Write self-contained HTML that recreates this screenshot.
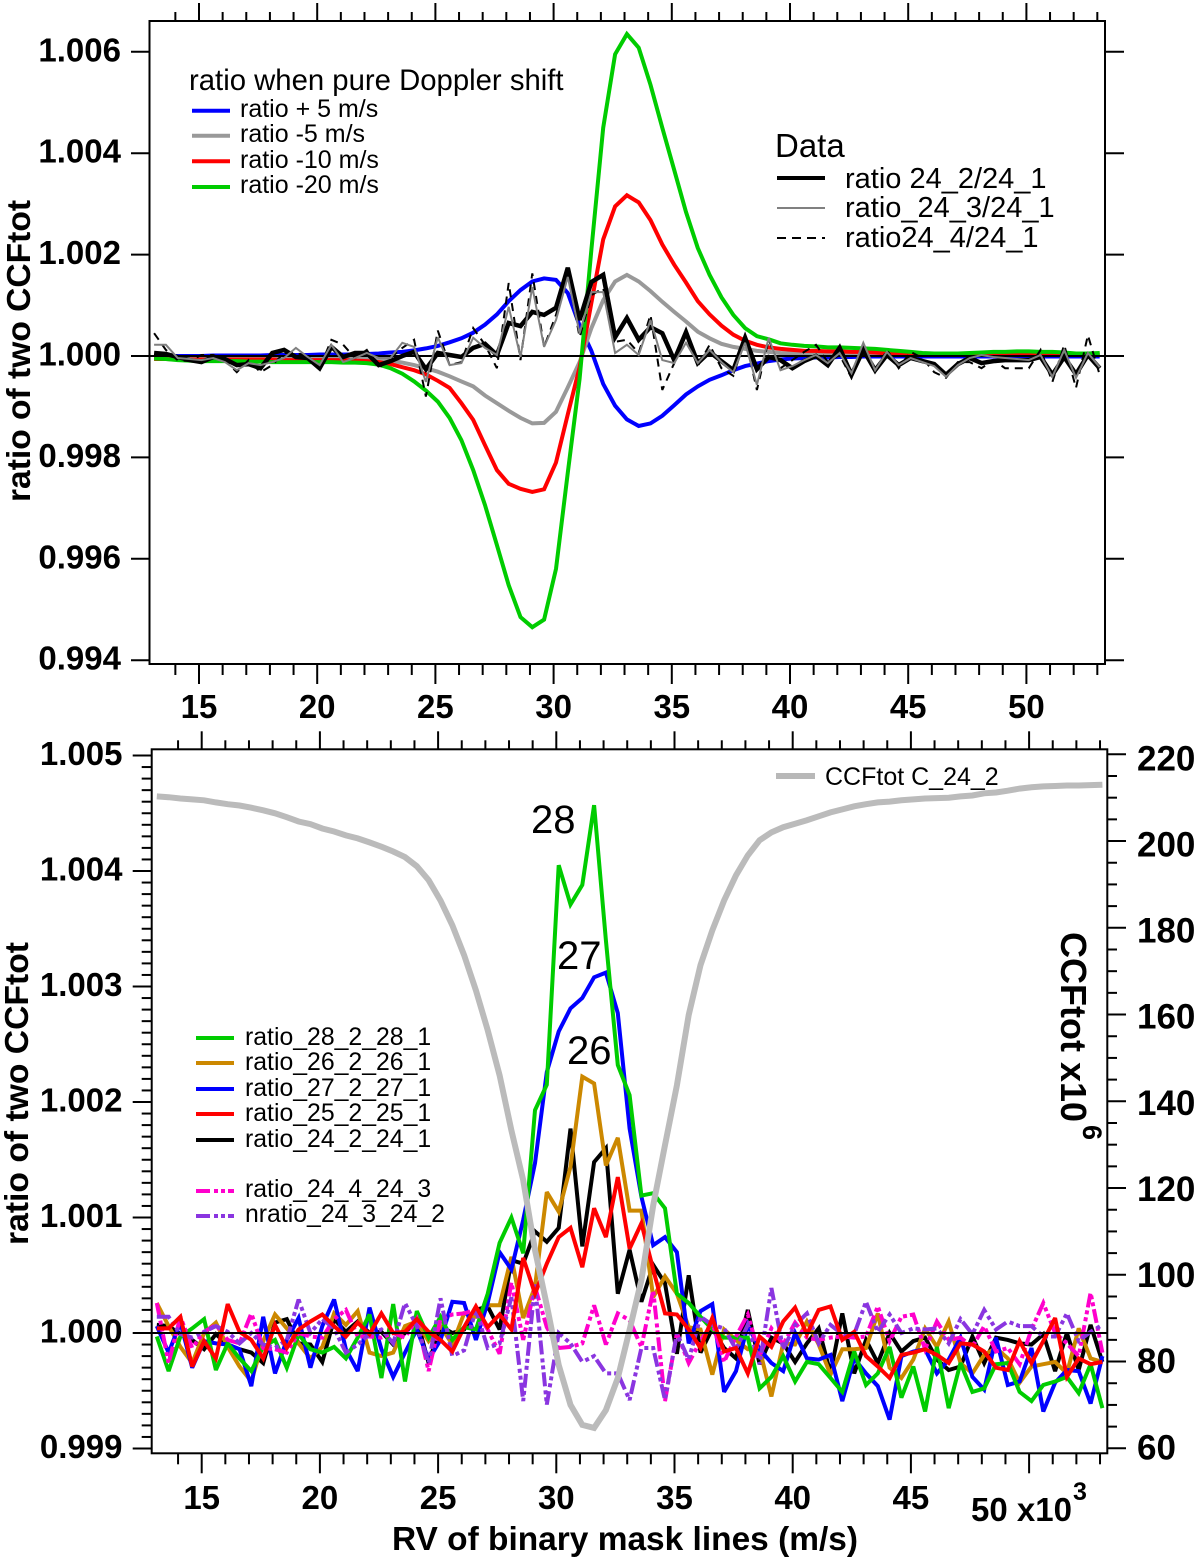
<!DOCTYPE html>
<html lang="en">
<head>
<meta charset="utf-8">
<title>Ratio of two CCFtot</title>
<style>
html,body{margin:0;padding:0;background:#fff}
svg{display:block;font-family:"Liberation Sans",Arial,sans-serif}
.tk{font-weight:700;font-size:33px;fill:#000}
.lg{fill:#000}
</style>
</head>
<body>
<svg id="chart" xmlns="http://www.w3.org/2000/svg" width="1200" height="1560" viewBox="0 0 1200 1560">
  <rect width="1200" height="1560" fill="#fff"/>
  <g id="top-panel"></g>
  <g id="bottom-panel"></g>

  <text transform="translate(30,502) rotate(-90)" font-size="33" font-weight="700" textLength="302" lengthAdjust="spacingAndGlyphs">ratio of two CCFtot</text>
  <text transform="translate(28,1245) rotate(-90)" font-size="33" font-weight="700" textLength="303" lengthAdjust="spacingAndGlyphs">ratio of two CCFtot</text>
  <text transform="translate(1061,932) rotate(90)" font-size="36" font-weight="700">CCFtot x10</text>
  <text transform="translate(1083,1125) rotate(90)" font-size="27" font-weight="700">6</text>
  <text x="392" y="1550" font-size="33" font-weight="700" textLength="466" lengthAdjust="spacingAndGlyphs">RV of binary mask lines (m/s)</text>
  <text x="971" y="1521" font-size="33" font-weight="700">50 x10</text>
  <text x="1073" y="1500" font-size="25" font-weight="700">3</text>

  <g>
    <text class="lg" x="189" y="90" font-size="29.3">ratio when pure Doppler shift</text>
    <line x1="192" x2="230" y1="110.7" y2="110.7" stroke="#0000ff" stroke-width="4"/>
    <text class="lg" x="240" y="117" font-size="25">ratio + 5 m/s</text>
    <line x1="192" x2="230" y1="135.7" y2="135.7" stroke="#999999" stroke-width="4"/>
    <text class="lg" x="240" y="142" font-size="25">ratio -5 m/s</text>
    <line x1="192" x2="230" y1="161.3" y2="161.3" stroke="#ff0000" stroke-width="4"/>
    <text class="lg" x="240" y="168" font-size="25">ratio -10 m/s</text>
    <line x1="192" x2="230" y1="187" y2="187" stroke="#00cc00" stroke-width="4"/>
    <text class="lg" x="240" y="193" font-size="25">ratio -20 m/s</text>
  </g>

  <g>
    <text class="lg" x="775" y="157" font-size="33">Data</text>
    <line x1="777" x2="825" y1="178" y2="178" stroke="#000" stroke-width="4"/>
    <text class="lg" x="845" y="188" font-size="29">ratio 24_2/24_1</text>
    <line x1="777" x2="825" y1="208" y2="208" stroke="#808080" stroke-width="2"/>
    <text class="lg" x="845" y="217" font-size="29">ratio_24_3/24_1</text>
    <line x1="777" x2="825" y1="238" y2="238" stroke="#000" stroke-width="2" stroke-dasharray="9 6"/>
    <text class="lg" x="845" y="247" font-size="29">ratio24_4/24_1</text>
  </g>

  <g>
    <line x1="196" x2="234" y1="1038" y2="1038" stroke="#00cc00" stroke-width="4"/>
    <text class="lg" x="245" y="1045" font-size="24.8">ratio_28_2_28_1</text>
    <line x1="196" x2="234" y1="1063" y2="1063" stroke="#cc8800" stroke-width="4"/>
    <text class="lg" x="245" y="1070" font-size="24.8">ratio_26_2_26_1</text>
    <line x1="196" x2="234" y1="1089" y2="1089" stroke="#0000ff" stroke-width="4"/>
    <text class="lg" x="245" y="1096" font-size="24.8">ratio_27_2_27_1</text>
    <line x1="196" x2="234" y1="1114" y2="1114" stroke="#ff0000" stroke-width="4"/>
    <text class="lg" x="245" y="1121" font-size="24.8">ratio_25_2_25_1</text>
    <line x1="196" x2="234" y1="1140" y2="1140" stroke="#000" stroke-width="4"/>
    <text class="lg" x="245" y="1147" font-size="24.8">ratio_24_2_24_1</text>
    <line x1="196" x2="234" y1="1191" y2="1191" stroke="#ff00cc" stroke-width="4" stroke-dasharray="14 4 4 3 4 3"/>
    <text class="lg" x="245" y="1197" font-size="24.8">ratio_24_4_24_3</text>
    <line x1="196" x2="234" y1="1216" y2="1216" stroke="#8a35e0" stroke-width="4" stroke-dasharray="14 4 4 3 4 3"/>
    <text class="lg" x="245" y="1222" font-size="24.8">nratio_24_3_24_2</text>
  </g>

  <g>
    <line x1="776" x2="815" y1="776" y2="776" stroke="#b8b8b8" stroke-width="6"/>
    <text class="lg" x="825" y="785" font-size="25">CCFtot C_24_2</text>
  </g>

  <text class="lg" x="531" y="833" font-size="40">28</text>
  <text class="lg" x="557" y="969" font-size="40">27</text>
  <text class="lg" x="567" y="1064" font-size="40">26</text>
</svg>

<script>
// RV grid (km/s) shared by every series
const rv = [13.1,13.6,14.1,14.6,15.1,15.6,16.1,16.6,17.1,17.6,18.1,18.6,19.1,19.6,20.1,20.6,21.1,21.6,22.1,22.6,23.1,23.6,24.1,24.6,25.1,25.6,26.1,26.6,27.1,27.6,28.1,28.6,29.1,29.6,30.1,30.6,31.1,31.6,32.1,32.6,33.1,33.6,34.1,34.6,35.1,35.6,36.1,36.6,37.1,37.6,38.1,38.6,39.1,39.6,40.1,40.6,41.1,41.6,42.1,42.6,43.1,43.6,44.1,44.6,45.1,45.6,46.1,46.6,47.1,47.6,48.1,48.6,49.1,49.6,50.1,50.6,51.1,51.6,52.1,52.6,53.1];

// Tick labels
const xTickLabelsTop = [15,20,25,30,35,40,45,50];
const xTickLabelsBottom = [15,20,25,30,35,40,45];
const yTicksTop = ['1.006','1.004','1.002','1.000','0.998','0.996','0.994'];
const yTicksBottom = ['1.005','1.004','1.003','1.002','1.001','1.000','0.999'];
const yTicksCcf = [220,200,180,160,140,120,100,80,60];

// Top panel: (ratio - 1) in units of 1e-3
const ratioPlus5 = [0,0,0,0,0,.01,.01,.01,.01,.01,.02,.02,.02,.02,.03,.03,.03,.03,.04,.05,.07,.08,.11,.15,.2,.27,.35,.46,.62,.82,1.08,1.3,1.47,1.53,1.5,1.24,.6,.1,-.55,-.98,-1.25,-1.38,-1.33,-1.18,-.97,-.76,-.6,-.47,-.38,-.28,-.2,-.15,-.1,-.07,-.05,-.04,-.03,-.03,-.02,-.02,-.01,-.01,-.01,-.01,-.01,-.01,-.01,-.01,-.01,-.01,-.01,-.01,-.01,-.01,-.01,-.01,-.01,-.01,-.01,-.01,-.01];
const ratioMinus5 = [-.02,-.02,-.02,-.02,-.02,-.02,-.02,-.02,-.02,-.02,-.03,-.03,-.03,-.03,-.04,-.04,-.04,-.05,-.06,-.08,-.09,-.13,-.18,-.24,-.31,-.4,-.5,-.6,-.78,-.93,-1.08,-1.22,-1.33,-1.32,-1.1,-.62,-.12,.55,1.1,1.47,1.6,1.47,1.28,1.07,.87,.68,.48,.35,.24,.18,.14,.1,.08,.06,.05,.04,.04,.03,.03,.03,.02,.02,.02,.02,.02,.02,.02,.02,.02,.02,.02,.02,.02,.02,.02,.02,.02,.02,.02,.02,.02];
const ratioMinus10 = [-.06,-.06,-.07,-.07,-.07,-.07,-.07,-.07,-.07,-.07,-.07,-.08,-.08,-.08,-.08,-.08,-.08,-.09,-.1,-.12,-.16,-.22,-.28,-.36,-.49,-.63,-.93,-1.26,-1.76,-2.25,-2.52,-2.62,-2.68,-2.63,-2.1,-1.15,-.22,1.05,2.3,2.95,3.17,3.03,2.68,2.2,1.8,1.45,1.08,.82,.6,.42,.3,.22,.17,.14,.12,.1,.1,.09,.09,.08,.08,.07,.05,.04,.03,.03,.03,.03,.03,.03,.03,.03,.03,.03,.03,.03,.03,.03,.03,.03,.03];
const ratioMinus20 = [-.05,-.06,-.08,-.09,-.1,-.1,-.1,-.1,-.11,-.11,-.12,-.12,-.12,-.12,-.12,-.12,-.13,-.13,-.14,-.17,-.24,-.35,-.5,-.68,-.9,-1.22,-1.66,-2.25,-2.94,-3.73,-4.52,-5.15,-5.35,-5.2,-4.2,-2.3,-.45,2.1,4.5,5.95,6.35,6.08,5.35,4.5,3.67,2.84,2.13,1.6,1.16,.81,.55,.39,.33,.25,.22,.2,.19,.17,.17,.16,.15,.14,.12,.1,.08,.06,.05,.05,.05,.06,.07,.08,.08,.09,.09,.08,.08,.07,.05,.05,.06];
const data24_2 = [.06,.04,-.02,-.08,-.12,-.02,-.06,-.18,-.16,-.24,.06,.12,-.02,-.04,-.24,.18,-.02,.06,.06,-.18,-.1,0,.08,-.26,.06,.02,-.02,.16,.24,.02,.65,.59,.87,.81,.95,1.74,.71,1.46,1.6,.37,.75,.32,.57,.45,-.08,.47,-.14,.08,-.1,-.28,.36,-.26,-.02,-.08,-.24,-.1,0,-.18,.16,-.37,.12,-.28,.02,-.18,-.04,-.1,-.16,-.37,-.16,-.04,-.14,-.1,-.08,-.08,-.08,-.02,-.37,-.02,-.36,.02,-.24];
const data24_3 = [.22,.22,-.04,-.06,-.08,-.04,-.12,-.28,-.14,-.18,-.12,-.04,.16,-.02,-.18,.22,-.12,-.04,.06,-.04,-.04,.26,.18,-.51,.37,-.18,-.14,.36,.16,.02,.97,-.02,1.36,.18,.71,1.56,.45,1.26,1.26,.06,.22,.02,.71,-.08,-.14,.26,-.14,.12,-.12,-.32,.26,-.57,.36,-.28,-.2,-.08,.02,-.14,.06,-.34,.26,-.28,.08,-.18,-.04,-.12,-.2,-.41,-.18,-.04,.02,-.02,-.04,-.06,-.08,.02,-.41,.12,-.43,.06,-.22];
const data24_4 = [.45,.12,-.08,-.1,.02,.02,-.08,-.32,-.08,-.32,-.18,.06,.06,0,-.24,.32,.22,-.04,.12,-.24,-.04,.16,.32,-.8,.5,-.18,-.12,.55,.22,-.24,1.44,-.08,1.63,.18,.81,1.63,.37,1.2,1.34,.28,.32,.06,.81,-.67,-.14,.41,-.2,.22,-.24,-.39,.36,-.67,.32,-.24,-.08,.08,.22,-.12,.02,-.43,.22,-.32,.12,-.24,.08,-.04,-.32,-.43,-.12,-.12,-.24,-.08,-.24,-.24,-.24,.12,-.51,.22,-.63,.41,-.37];

// Bottom panel: (ratio - 1) in units of 1e-3
const ratio28 = [-.03,-.33,-.03,.04,.12,-.32,-.09,-.22,-.33,-.12,-.06,-.3,-.01,-.14,-.17,-.12,-.22,-.04,.16,-.39,.25,-.42,.19,-.04,.14,-.06,.05,.03,.34,.78,1.0,.69,1.93,2.15,4.05,3.71,3.88,4.57,3.4,2.32,2.06,1.19,1.21,1.08,.34,.26,.14,.03,-.04,-.04,-.04,-.48,-.38,-.2,-.42,-.25,-.27,-.39,-.51,-.16,-.45,-.35,-.12,-.56,-.29,-.68,-.12,-.65,-.26,-.51,-.48,-.27,-.26,-.51,-.59,-.45,-.42,-.38,-.52,-.27,-.65];
const ratio26 = [.26,.06,-.12,-.26,0,.09,-.12,-.29,-.42,-.07,.16,.04,-.09,-.22,-.12,.17,.07,.19,-.17,-.2,-.17,.06,.1,-.07,.06,-.1,.17,.14,.24,.24,.66,.13,.4,1.22,1.05,1.44,2.22,2.16,1.45,1.69,1.06,1.06,.31,.49,.34,.05,.03,-.36,.03,-.06,-.14,-.14,-.55,-.09,-.1,.1,-.1,-.36,-.14,-.14,-.13,.17,-.3,-.39,-.23,.04,-.12,.1,-.26,-.35,-.19,-.13,-.22,-.43,-.29,-.27,-.25,-.35,.04,-.22,-.25];
const ratio27 = [.06,-.17,.09,-.3,-.07,-.09,-.1,-.14,-.46,.14,-.35,-.06,.13,-.3,.06,.29,-.14,-.33,.22,-.14,-.38,-.17,.03,-.23,-.06,.27,.26,-.06,.26,.7,.55,.98,1.47,2.26,2.61,2.81,2.9,3.08,3.12,2.77,1.77,1.18,.76,.83,.7,-.09,.19,.25,-.51,-.33,.07,-.14,-.26,-.33,0,-.22,-.23,-.19,-.59,-.22,-.35,-.46,-.75,-.2,-.16,-.14,-.35,-.23,-.04,-.38,-.49,-.04,-.45,-.42,-.13,-.68,-.43,-.32,-.33,-.61,-.2];
const ratio25 = [.04,.04,.14,-.29,-.07,-.22,.25,.01,-.06,-.22,.07,-.13,.03,.1,.16,.06,-.03,.09,-.01,.17,0,.01,.12,.01,-.06,-.16,.05,.23,.05,.16,.03,.65,.34,.6,.83,.91,.57,1.08,.83,1.35,.73,.95,.55,.17,.16,.03,-.13,.13,-.16,-.13,-.35,-.03,-.12,.1,.22,-.01,.2,.23,-.06,.01,-.2,-.29,-.39,-.19,-.17,-.14,-.19,-.26,-.09,-.1,-.16,-.3,-.32,-.07,-.26,-.07,.13,-.38,-.22,-.27,-.25];
const ratio24 = [.07,.06,-.01,-.06,-.14,-.01,-.1,-.14,-.17,-.26,.09,.12,-.09,-.1,-.25,.12,.01,.1,0,.01,-.1,0,.12,-.26,.06,0,.03,.2,.23,.03,.63,.6,.88,.79,.91,1.77,.75,1.48,1.6,.34,.72,.27,.59,.43,-.18,.5,-.17,.04,-.13,-.22,.2,-.27,-.04,-.09,-.25,-.09,.04,-.35,.17,-.35,-.06,-.26,0,-.16,-.07,-.04,-.23,-.32,-.29,-.03,-.26,-.04,-.06,-.09,-.1,-.01,-.33,0,-.32,.07,-.25];
const ratio24_4_3 = [.26,-.26,.14,-.13,.01,.07,-.06,-.09,.17,-.13,-.14,-.17,0,-.03,-.04,.12,.2,-.03,-.03,-.04,0,-.04,.12,-.33,.12,.16,.17,.2,.03,-.18,.44,-.06,.4,.05,-.13,-.12,-.09,.24,-.1,.17,.11,-.12,.37,-.59,0,-.26,-.07,.09,-.25,-.03,.16,-.2,.04,-.1,.09,-.04,-.06,-.04,-.03,-.04,-.03,.23,-.07,.14,.16,-.14,.1,-.06,-.04,-.12,.06,-.16,-.13,-.27,.03,.26,0,-.09,-.2,.35,-.17];
const ratio24_3_2 = [.14,.14,-.01,-.04,.01,.06,.01,-.09,0,-.1,-.13,-.06,.29,0,.12,.04,-.17,-.1,-.01,.03,-.09,.26,.06,-.26,.3,-.2,-.15,.2,-.13,-.09,.31,-.59,.42,-.62,0,-.09,-.25,-.2,-.35,-.35,-.58,-.13,-.13,-.58,0,-.23,.14,.07,.04,-.14,.07,-.27,.39,-.14,.07,.17,-.09,.07,-.01,-.01,.27,.01,.16,0,.04,.03,.04,-.09,.12,-.01,.2,.03,.1,.06,.06,-.03,-.03,.17,-.07,.01,.07];
const ccfTot = [210.3,210.1,209.8,209.6,209.4,208.9,208.5,208.2,207.7,207.1,206.4,205.5,204.5,203.9,202.9,202.2,201.3,200.6,199.7,198.7,197.6,196.3,194.2,191,186.3,180.6,173.7,165.6,156.4,146,133.3,121.8,105.7,93,79.2,70,65.4,64.7,68.8,76.2,87.3,98.8,116,129.9,143.7,159.9,171.4,179.4,186.3,192.1,196.7,200.2,202,203.2,204,204.8,205.7,206.6,207.3,208,208.5,208.9,209.1,209.4,209.6,209.8,209.9,210,210.3,210.5,211,211.2,211.6,212.1,212.4,212.6,212.7,212.8,212.8,212.9,213];

// Axis functions
const SVGNS = 'http://www.w3.org/2000/svg';
const topX = v => 199 + (v - 15) * 23.64;
const topY = d => 356 - d * 50.7;
const botX = v => 201.7 + (v - 15) * 23.64;
const botY = d => 1333 - d * 115.5;
const ccfY = c => 1448.3 - (c - 60) * 4.3375;

function drawLine(parent, x1, y1, x2, y2, width) {
  const el = document.createElementNS(SVGNS, 'line');
  el.setAttribute('x1', x1);
  el.setAttribute('y1', y1);
  el.setAttribute('x2', x2);
  el.setAttribute('y2', y2);
  el.setAttribute('stroke', '#000');
  el.setAttribute('stroke-width', width);
  parent.appendChild(el);
  return el;
}

function drawLabel(parent, x, y, anchor, size, str) {
  const el = document.createElementNS(SVGNS, 'text');
  el.setAttribute('x', x);
  el.setAttribute('y', y);
  el.setAttribute('text-anchor', anchor);
  el.setAttribute('font-size', size);
  el.setAttribute('font-weight', '700');
  el.textContent = str;
  parent.appendChild(el);
  return el;
}

function drawSeries(parent, xFn, yFn, values, name, color, width, dash) {
  const el = document.createElementNS(SVGNS, 'polyline');
  
  
  el.setAttribute('points', values.map((d, i) => xFn(rv[i]).toFixed(1) + ',' + yFn(d).toFixed(1)).join(' '));
  el.setAttribute('fill', 'none');
  el.setAttribute('stroke', color);
  el.setAttribute('stroke-width', width);
  el.setAttribute('stroke-linejoin', 'miter');
  el.setAttribute('stroke-miterlimit', '3');
  if (dash) el.setAttribute('stroke-dasharray', dash);
  parent.appendChild(el);
  return el;
}

function drawXTicks(parent, xFn, frameTop, frameBottom) {
  for (let u = 14; u <= 53; u++) {
    const major = u % 5 === 0;
    const lenTop = major ? 18 : 9;
    const lenBottom = major ? 20 : 11;
    const a = drawLine(parent, xFn(u), frameTop, xFn(u), frameTop - lenTop, 2);
    
    
    const b = drawLine(parent, xFn(u), frameBottom, xFn(u), frameBottom + lenBottom, 2);
    
    
  }
}

function drawFrame(parent, x, y, w, h) {
  const el = document.createElementNS(SVGNS, 'rect');
  
  
  el.setAttribute('x', x);
  el.setAttribute('y', y);
  el.setAttribute('width', w);
  el.setAttribute('height', h);
  el.setAttribute('fill', 'none');
  el.setAttribute('stroke', '#000');
  el.setAttribute('stroke-width', '2');
  parent.appendChild(el);
}

/* ---------- top panel ---------- */
const tp = document.getElementById('top-panel');
drawSeries(tp, topX, topY, ratioPlus5, 'series-ratio-plus-5', '#0000ff', 4);
drawSeries(tp, topX, topY, ratioMinus5, 'series-ratio-minus-5', '#999999', 4);
drawSeries(tp, topX, topY, ratioMinus10, 'series-ratio-minus-10', '#ff0000', 4);
drawSeries(tp, topX, topY, ratioMinus20, 'series-ratio-minus-20', '#00cc00', 4);
const zeroTop = drawLine(tp, 149.5, topY(0), 1105, topY(0), 2);


drawSeries(tp, topX, topY, data24_4, 'series-ratio-24-4', '#000000', 2, '8 6');
drawSeries(tp, topX, topY, data24_2, 'series-ratio-24-2', '#000000', 4.5);
drawSeries(tp, topX, topY, data24_3, 'series-ratio-24-3', '#808080', 2);
drawFrame(tp, 149.5, 21, 955.5, 643);
drawXTicks(tp, topX, 21, 664);
xTickLabelsTop.forEach(v => {
  const t = drawLabel(tp, topX(v), 718, 'middle', 33, String(v));
  
  
});
yTicksTop.forEach(s => {
  const y = topY((parseFloat(s) - 1) * 1000);
  const a = drawLine(tp, 131, y, 149.5, y, 2);
  
  
  const b = drawLine(tp, 1105, y, 1124, y, 2);
  
  
  const t = drawLabel(tp, 121, y + 9.5, 'end', 33, s);
  
  
});

/* ---------- bottom panel ---------- */
const bp = document.getElementById('bottom-panel');
drawSeries(bp, botX, botY, ratio24, 'series-ratio-24', '#000000', 4);
drawSeries(bp, botX, botY, ratio26, 'series-ratio-26', '#cc8800', 4);
drawSeries(bp, botX, botY, ratio27, 'series-ratio-27', '#0000ff', 4);
drawSeries(bp, botX, botY, ratio28, 'series-ratio-28', '#00cc00', 4);
drawSeries(bp, botX, botY, ratio24_4_3, 'series-ratio-24-4-24-3', '#ff00cc', 4, '14 4 4 3 4 3');
drawSeries(bp, botX, botY, ratio24_3_2, 'series-nratio-24-3-24-2', '#8a35e0', 4, '14 4 4 3 4 3');
drawSeries(bp, botX, botY, ratio25, 'series-ratio-25', '#ff0000', 4);
drawSeries(bp, botX, ccfY, ccfTot, 'series-ccftot', '#bbbbbb', 6);
const zeroBot = drawLine(bp, 151.7, botY(0), 1107.3, botY(0), 2);


drawFrame(bp, 151.7, 749.3, 955.6, 704);
drawXTicks(bp, botX, 749.3, 1453.3);
xTickLabelsBottom.forEach(v => {
  const t = drawLabel(bp, botX(v), 1509, 'middle', 33, String(v));
  
  
});
yTicksBottom.forEach(s => {
  const y = botY((parseFloat(s) - 1) * 1000);
  const a = drawLine(bp, 132.7, y, 151.7, y, 2);
  
  
  const t = drawLabel(bp, 122.5, y + 9.5, 'end', 33, s);
  
  
});
for (let k = -9; k <= 49; k++) {
  if ((k + 100) % 10 === 0) continue;
  const y = botY(k / 10);
  const m = drawLine(bp, 141.7, y, 151.7, y, 2);
  
  
}
yTicksCcf.forEach(c => {
  const y = ccfY(c);
  const a = drawLine(bp, 1107.3, y, 1126, y, 2);
  
  
  const baseline = y + 11 + (c - 60) / 160 * 5;
  const t = drawLabel(bp, 1137, baseline, 'start', 35, String(c));
  
  
});
for (let c = 65; c < 220; c += 5) {
  if (c % 20 === 0) continue;
  const y = ccfY(c);
  const m = drawLine(bp, 1107.3, y, 1117, y, 2);
  
  
}
</script>
</body>
</html>
